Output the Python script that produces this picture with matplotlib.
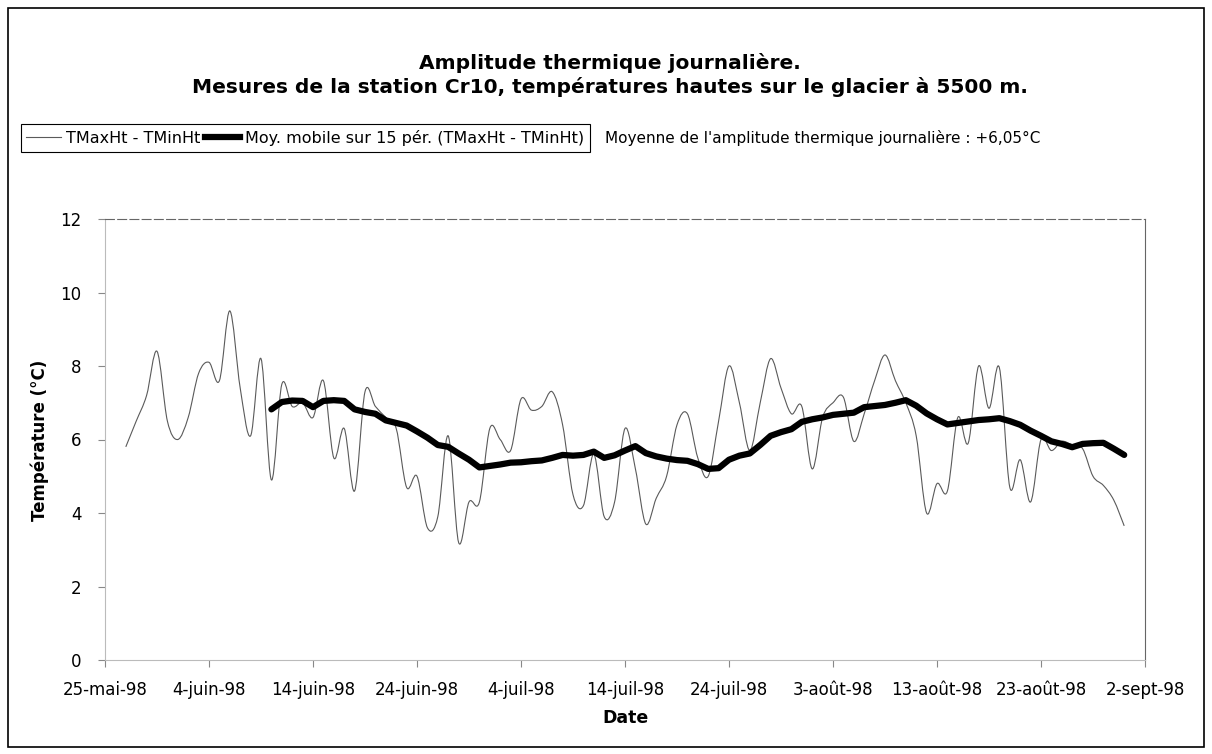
import matplotlib
matplotlib.use("Agg")
import matplotlib.pyplot as plt
import matplotlib.dates as mdates
from matplotlib.lines import Line2D
from matplotlib.patches import PathPatch, Rectangle
from matplotlib.path import Path
import pandas as pd

plt.rcParams['font.family'] = ['DejaVu Sans']

# daily amplitude TMaxHt - TMinHt (27 mai -> 31 aout 1998)
amp_start = "1998-05-27"
amplitude = [
    5.8, 6.5, 7.2, 8.4, 6.5, 6.0, 6.6, 7.8, 8.1, 7.6,
    9.5, 7.4, 6.1, 8.2, 4.9, 7.5, 6.9, 7.0, 6.6, 7.6,
    5.5, 6.3, 4.6, 7.3, 6.9, 6.6, 6.3, 4.7, 5.0, 3.6,
    3.9, 6.1, 3.2, 4.3, 4.3, 6.3, 6.0, 5.7, 7.1, 6.8,
    6.9, 7.3, 6.4, 4.5, 4.2, 5.6, 3.9, 4.3, 6.3, 5.2,
    3.7, 4.4, 5.0, 6.4, 6.7, 5.5, 5.0, 6.5, 8.0, 7.0,
    5.7, 7.0, 8.2, 7.4, 6.7, 6.9, 5.2, 6.6, 7.0, 7.15,
    5.95, 6.7, 7.6, 8.3, 7.6, 7.0, 6.1, 4.0, 4.8, 4.6,
    6.6, 5.9, 8.0, 6.85, 7.95, 4.7, 5.45, 4.3, 6.0, 5.7,
    5.95, 5.85, 5.75, 5.0, 4.75, 4.35, 3.65,
]

# moving average over 15 periods (10 juin -> 31 aout 1998)
ma_start = "1998-06-10"
moving_avg = [
    6.82, 7.02, 7.06, 7.05, 6.88, 7.05, 7.07, 7.05, 6.82, 6.75,
    6.70, 6.52, 6.45, 6.38, 6.22, 6.05, 5.85, 5.80, 5.62, 5.45,
    5.24, 5.28, 5.32, 5.37, 5.38, 5.41, 5.43, 5.50, 5.58, 5.56,
    5.58, 5.67, 5.50, 5.57, 5.70, 5.82, 5.63, 5.54, 5.48, 5.44,
    5.42, 5.33, 5.20, 5.22, 5.45, 5.56, 5.62, 5.85, 6.10, 6.20,
    6.28, 6.48, 6.55, 6.60, 6.67, 6.70, 6.73, 6.88, 6.91, 6.94,
    7.00, 7.07, 6.92, 6.71, 6.55, 6.41, 6.45, 6.49, 6.53, 6.55,
    6.58, 6.50, 6.40, 6.24, 6.10, 5.95, 5.88, 5.79, 5.88, 5.90,
    5.91, 5.75, 5.58,
]

tick_dates = ["1998-05-25", "1998-06-04", "1998-06-14", "1998-06-24", "1998-07-04",
              "1998-07-14", "1998-07-24", "1998-08-03", "1998-08-13", "1998-08-23",
              "1998-09-02"]
tick_labels = ["25-mai-98", "4-juin-98", "14-juin-98", "24-juin-98", "4-juil-98",
               "14-juil-98", "24-juil-98", "3-août-98", "13-août-98", "23-août-98",
               "2-sept-98"]
y_ticks = [0, 2, 4, 6, 8, 10, 12]

amp_x = mdates.date2num(pd.date_range(amp_start, periods=len(amplitude), freq="D"))
ma_x = mdates.date2num(pd.date_range(ma_start, periods=len(moving_avg), freq="D"))
tick_x = mdates.date2num(pd.to_datetime(tick_dates))


def smooth_path(xs, ys):
    # Excel-like smoothed line (Catmull-Rom as cubic Bezier)
    verts = [(xs[0], ys[0])]
    codes = [Path.MOVETO]
    n = len(xs)
    for i in range(n - 1):
        x0, y0 = xs[max(i - 1, 0)], ys[max(i - 1, 0)]
        x1, y1 = xs[i], ys[i]
        x2, y2 = xs[i + 1], ys[i + 1]
        x3, y3 = xs[min(i + 2, n - 1)], ys[min(i + 2, n - 1)]
        verts.append((x1 + (x2 - x0) / 6, y1 + (y2 - y0) / 6))
        verts.append((x2 - (x3 - x1) / 6, y2 - (y3 - y1) / 6))
        verts.append((x2, y2))
        codes += [Path.CURVE4] * 3
    return Path(verts, codes)


fig = plt.figure(figsize=(12.12, 7.54), dpi=100)
ax = fig.add_axes([105 / 1212, 1 - 660 / 754, 1040 / 1212, 441 / 754])

thin_color = "#5a5a5a"
ax.add_patch(PathPatch(smooth_path(amp_x, amplitude), fill=False,
                       edgecolor=thin_color, lw=0.8))
ax.plot(ma_x, moving_avg, color="black", lw=4.5, solid_capstyle="round")

ax.set_xlim(tick_x[0], tick_x[-1])
ax.set_ylim(0, 12)
ax.set_xticks(tick_x)
ax.set_xticklabels(tick_labels, fontsize=12)
ax.set_yticks(y_ticks)
ax.set_yticklabels([str(v) for v in y_ticks], fontsize=12)
ax.tick_params(direction="out", length=5, color="#888888")
ax.tick_params(axis="x", pad=10)
ax.tick_params(axis="y", pad=12)
for side in ["left", "bottom"]:
    ax.spines[side].set_color("#bbbbbb")
    ax.spines[side].set_linewidth(0.8)
ax.spines["top"].set_color("#666666")
ax.spines["top"].set_linewidth(0.8)
ax.spines["top"].set_linestyle((0, (8, 3)))
ax.spines["right"].set_color("#666666")
ax.spines["right"].set_linewidth(0.8)

ax.set_xlabel("Date", fontsize=12.5, fontweight="bold")
ax.xaxis.set_label_coords(0.5, -0.112)
fig.text(40 / 1212, 1 - 440 / 754, "Température (°C)", rotation=90,
         ha="center", va="center", fontsize=12, fontweight="bold")

fig.text(0.503, 1 - 75 / 754,
         "Amplitude thermique journalière.\n"
         "Mesures de la station Cr10, températures hautes sur le glacier à 5500 m.",
         ha="center", va="center", fontsize=14.5, fontweight="bold", linespacing=1.2)

handles = [Line2D([], [], color=thin_color, lw=0.8),
           Line2D([], [], color="black", lw=4.5)]
labels = ["TMaxHt - TMinHt", "Moy. mobile sur 15 pér. (TMaxHt - TMinHt)"]
leg = fig.legend(handles, labels, loc="center right",
                 bbox_to_anchor=(590 / 1212, 1 - 138 / 754), ncol=2,
                 fancybox=False, edgecolor="black", framealpha=1,
                 borderpad=0.35, handlelength=2.2, handletextpad=0.3,
                 columnspacing=0.3, fontsize=11.5, borderaxespad=0)
leg.get_frame().set_linewidth(0.8)

fig.text(605 / 1212, 1 - 138 / 754,
         "Moyenne de l'amplitude thermique journalière : +6,05°C",
         ha="left", va="center", fontsize=11)

fig.add_artist(Rectangle((8 / 1212, 1 - 747 / 754), 1196 / 1212, 739 / 754,
                         transform=fig.transFigure, fill=False,
                         edgecolor="black", lw=1.2))

fig.savefig("out.png", dpi=100)
